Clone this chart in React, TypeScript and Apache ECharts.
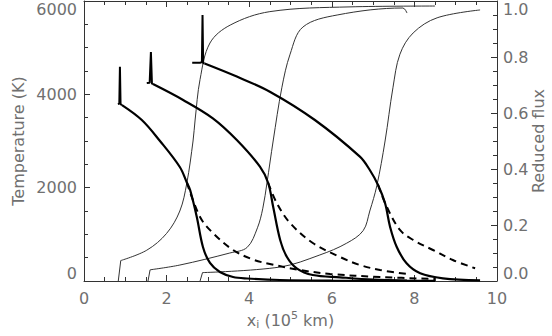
import React, { useEffect, useRef } from "react";
import * as echarts from "echarts";

const FONT = '"DejaVu Sans", sans-serif';
const LABEL = "#707070";
const AXIS = "#333";

// x in 10^5 km, temperature in K
const temp1Spike = [[0.82, 3790], [0.855, 3800], [0.87, 4590], [0.885, 3790], [0.92, 3770]];
const temp1 = [[0.92, 3770], [1.4, 3450], [1.84, 3000], [2.32, 2443], [2.49, 2110], [2.57, 1950], [2.73, 1378], [2.88, 729], [3.05, 386], [3.29, 193], [3.61, 86], [3.95, 54], [4.75, 21], [6.0, 8], [8.5, 2]];
const dash1 = [[2.49, 2110], [2.81, 1371], [3.12, 1029], [3.61, 664], [4.09, 460], [4.5, 365], [5.23, 236], [5.96, 150], [7.17, 86], [8.5, 43]];

const temp2Spike = [[1.52, 4243], [1.59, 4250], [1.62, 4907], [1.645, 4230], [1.67, 4220]];
const temp2 = [[1.67, 4220], [2.4, 3879], [3.12, 3486], [3.7, 3021], [4.26, 2450], [4.46, 2100], [4.58, 1592], [4.75, 879], [4.91, 521], [5.15, 272], [5.54, 129], [6.2, 79], [7.0, 30], [7.82, 10]];
const dash2 = [[4.46, 2100], [4.67, 1665], [4.99, 1243], [5.54, 814], [6.2, 514], [6.68, 343], [7.17, 236], [7.82, 150]];

const temp3Spike = [[2.62, 4678], [2.81, 4678], [2.855, 4690], [2.87, 5700], [2.885, 4670], [2.92, 4660]];
const temp3 = [[2.92, 4660], [3.7, 4380], [4.5, 4057], [5.59, 3450], [6.68, 2664], [6.92, 2379], [7.12, 2057], [7.29, 1665], [7.41, 1164], [7.57, 735], [7.81, 379], [8.14, 165], [8.69, 58], [9.59, 15]];
const dash3 = [[7.12, 2057], [7.33, 1592], [7.65, 1093], [7.97, 879], [8.45, 664], [8.93, 450], [9.47, 272]];

// reduced flux: initial jump, then the rising profile
const flux1Jump = [[0.83, 0], [0.89, 0.073]];
const flux1 = [[0.89, 0.073], [1.52, 0.11], [2.0, 0.17], [2.32, 0.25], [2.49, 0.35], [2.64, 0.5], [2.69, 0.575], [2.81, 0.72], [3.05, 0.85], [3.54, 0.914], [4.5, 0.962], [6.44, 0.979], [8.5, 0.982]];
const flux2Jump = [[1.55, 0], [1.6, 0.04]];
const flux2 = [[1.6, 0.04], [2.32, 0.057], [3.53, 0.1], [3.95, 0.12], [4.2, 0.19], [4.33, 0.26], [4.43, 0.35], [4.58, 0.5], [4.79, 0.69], [4.99, 0.81], [5.3, 0.907], [6.13, 0.95], [7.72, 0.975], [7.82, 0.957]];
const flux3Jump = [[2.81, 0], [2.87, 0.03]];
const flux3 = [[2.87, 0.03], [4.75, 0.05], [5.71, 0.093], [6.36, 0.135], [6.76, 0.18], [6.92, 0.25], [7.09, 0.34], [7.29, 0.5], [7.48, 0.69], [7.65, 0.81], [7.97, 0.886], [8.55, 0.94], [9.59, 0.968]];

const X_MIN = 0, X_MAX = 10, X_STEP = 2;
const T_MIN = 0, T_MAX = 6000, T_STEP = 2000;
const F_MIN = 0, F_MAX = 1, F_STEP = 0.2;

function line(data: number[][], yAxisIndex: number, width: number, opts: any = {}) {
  return {
    type: "line",
    data,
    yAxisIndex,
    showSymbol: false,
    symbol: "none",
    smooth: opts.smooth ?? 0.35,
    silent: true,
    lineStyle: { color: opts.color ?? "#000", width, type: opts.dash ?? "solid" },
    z: opts.z ?? 2,
  };
}

export default function App() {
  const ref = useRef<HTMLDivElement>(null);
  useEffect(() => {
    const chart = echarts.init(ref.current!, null, { renderer: "svg" });
    const axisCommon = {
      axisLine: { show: true, onZero: false, lineStyle: { color: AXIS, width: 1 } },
      axisTick: { show: true, inside: true, length: 6, lineStyle: { color: AXIS } },
      minorTick: { show: true, splitNumber: 4, length: 4, lineStyle: { color: AXIS } },
      splitLine: { show: false },
      minorSplitLine: { show: false },
    };
    const labelCommon = { color: LABEL, fontFamily: FONT, fontSize: 16 };
    const thin = { color: "#333", z: 1 };
    chart.setOption({
      animation: false,
      backgroundColor: "#fff",
      grid: { left: 84, right: 55, top: 1, bottom: 55, containLabel: false, outerBoundsMode: "none" },
      xAxis: [
        {
          type: "value", min: X_MIN, max: X_MAX, interval: X_STEP, position: "bottom",
          ...axisCommon,
          axisLabel: { ...labelCommon, margin: 9 },
          name: "{a|x}{sub|i}{a| (10}{sup|5}{a| km)}",
          nameLocation: "middle",
          nameGap: 29,
          nameMoveOverlap: false,
          nameTextStyle: {
            rich: {
              a: { ...labelCommon, lineHeight: 20, verticalAlign: "middle" },
              sub: { ...labelCommon, fontSize: 11, lineHeight: 20, verticalAlign: "bottom" },
              sup: { ...labelCommon, fontSize: 11, lineHeight: 20, verticalAlign: "top" },
            },
          },
        },
        {
          type: "value", min: X_MIN, max: X_MAX, interval: X_STEP, position: "top",
          ...axisCommon,
          axisLabel: { show: false },
        },
      ],
      yAxis: [
        {
          type: "value", min: T_MIN, max: T_MAX, interval: T_STEP, position: "left",
          ...axisCommon,
          axisLabel: { ...labelCommon, margin: 7, formatter: (v: number) => String(v), verticalAlignMinLabel: "bottom", verticalAlignMaxLabel: "top" },
          name: "Temperature (K)",
          nameLocation: "middle",
          nameGap: 58,
          nameMoveOverlap: false,
          nameRotate: 90,
          nameTextStyle: { ...labelCommon },
        },
        {
          type: "value", min: F_MIN, max: F_MAX, interval: F_STEP, position: "right",
          ...axisCommon,
          axisLabel: { ...labelCommon, margin: 6, formatter: (v: number) => v.toFixed(1), verticalAlignMinLabel: "bottom", verticalAlignMaxLabel: "top" },
          name: "Reduced flux",
          nameLocation: "middle",
          nameGap: 33,
          nameMoveOverlap: false,
          nameRotate: 90,
          nameTextStyle: { ...labelCommon },
        },
      ],
      series: [
        line(flux1Jump, 1, 1, { ...thin, smooth: false }),
        line(flux2Jump, 1, 1, { ...thin, smooth: false }),
        line(flux3Jump, 1, 1, { ...thin, smooth: false }),
        line(flux1, 1, 1, thin),
        line(flux2, 1, 1, thin),
        line(flux3, 1, 1, thin),
        line(dash1, 0, 2, { dash: [7, 5] }),
        line(dash2, 0, 2, { dash: [7, 5] }),
        line(dash3, 0, 2, { dash: [7, 5] }),
        line(temp1Spike, 0, 2, { smooth: false }),
        line(temp2Spike, 0, 2, { smooth: false }),
        line(temp3Spike, 0, 2, { smooth: false }),
        line(temp1, 0, 2.2),
        line(temp2, 0, 2.2),
        line(temp3, 0, 2.2),
      ],
    });
    return () => chart.dispose();
  }, []);
  return (
    <div
      ref={ref}
      style={{ position: "fixed", left: 0, top: 0, width: 552, height: 336, background: "#fff" }}
    />
  );
}
